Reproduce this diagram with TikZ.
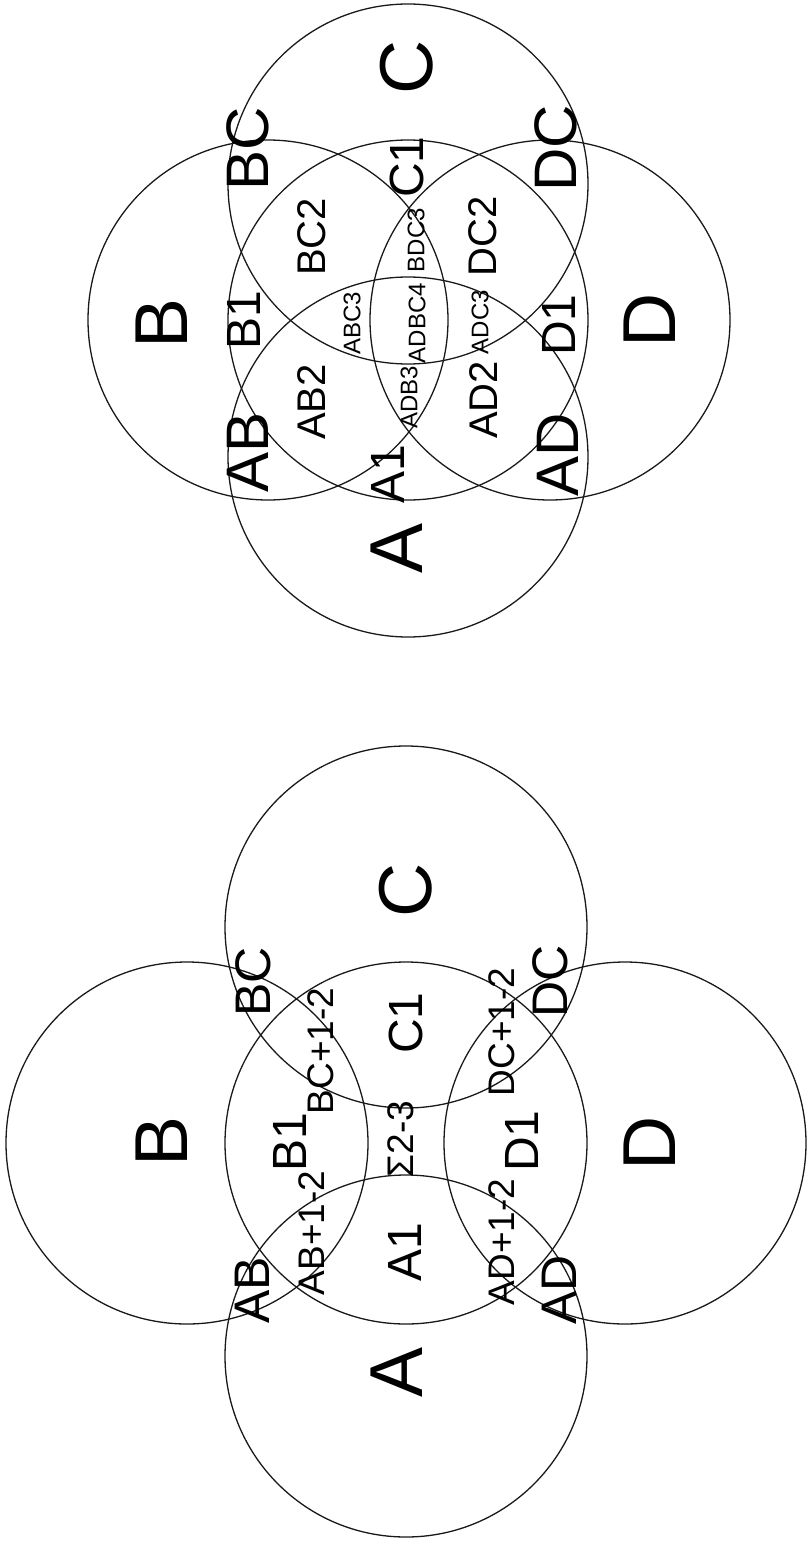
\documentclass[tikz,border=0pt]{standalone}
\usepackage{fontspec}
\setmainfont{Liberation Sans}
\usetikzlibrary{positioning}
\tikzset{
  ring/.style={draw=black!90, line width=0.65pt},
  tag/.style={rotate=90, inner sep=0pt, text=black},
  bigtag/.style={tag, font=\fontsize{37.5}{38}\selectfont},
  pairtag/.style={tag, font=\fontsize{30}{31}\selectfont},
  lowpairtag/.style={tag, font=\fontsize{25}{26}\selectfont},
  onetag/.style={tag, font=\fontsize{24}{25}\selectfont},
  twotag/.style={tag, font=\fontsize{20}{21}\selectfont},
  plustag/.style={tag, font=\fontsize{18.5}{19}\selectfont},
  tinytag/.style={tag, font=\fontsize{12}{13}\selectfont}
}

\begin{document}
\begin{tikzpicture}[x=0.5pt, y=-0.5pt]
\useasboundingbox (0,0) rectangle (811,1552);

% upper set: four rings round a middle one
\coordinate (tO) at (408,320);
\coordinate (tA) at (408,457);
\coordinate (tB) at (268,320);
\coordinate (tC) at (408,184);
\coordinate (tD) at (550,320);
\foreach \c in {O,A,B,C,D}{\draw[ring] (t\c) circle[radius=90pt];}

\foreach \n/\x/\y in {A/397/548, B/162/323, C/407/67, D/650/320}{\node[bigtag] (t\n) at (\x,\y) {\n};}
\foreach \n/\x/\y in {AB/248/452, BC/248/149, DC/556/148, AD/558/455}{\node[pairtag] (t\n) at (\x,\y) {\n};}
\foreach \n/\x/\y in {A1/388/474, B1/244/320, C1/407/167, D1/559/325}{\node[onetag] (t\n) at (\x,\y) {\n};}
\foreach \n/\x/\y in {AB2/312/402, BC2/312/237, DC2/483/236, AD2/484/400}{\node[twotag] (t\n) at (\x,\y) {\n};}
\foreach \n/\x/\y in {ABC3/352/323, ADBC4/417/323, ADC3/480/322, BDC3/416/240, ADB3/409/397}{\node[tinytag] (t\n) at (\x,\y) {\n};}

% lower set: rings pushed apart
\coordinate (bO) at (406,1143);
\coordinate (bA) at (406,1356);
\coordinate (bB) at (187,1143);
\coordinate (bC) at (406,927);
\coordinate (bD) at (625,1143);
\foreach \c in {O,A,B,C,D}{\draw[ring] (b\c) circle[radius=90.5pt];}

\foreach \n/\x/\y in {A/397/1372, B/162/1141, C/406/890, D/650/1143}{\node[bigtag] (b\n) at (\x,\y) {\n};}
\foreach \n/\x/\y in {AB/252/1290, BC/253/982, DC/550/981, AD/559/1290}{\node[lowpairtag] (b\n) at (\x,\y) {\n};}
\foreach \n/\x/\y in {A1/405/1252, B1/290/1142, C1/406/1023, D1/522/1141}{\node[onetag] (b\n) at (\x,\y) {\n};}
\node[plustag] (bABx) at (312,1233) {AB+1-2};
\node[plustag] (bBCx) at (321,1051) {BC+1-2};
\node[plustag] (bDCx) at (502,1032) {DC+1-2};
\node[plustag] (bADx) at (502,1242) {AD+1-2};
\node[plustag] (bSum) at (401,1139) {Σ2-3};
\end{tikzpicture}
\end{document}
